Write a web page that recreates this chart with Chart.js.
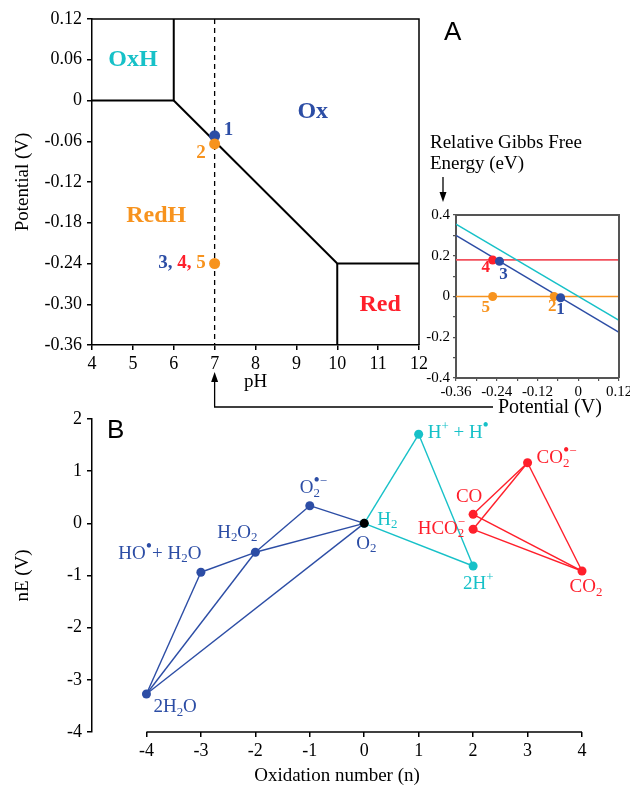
<!DOCTYPE html>
<html>
<head>
<meta charset="utf-8">
<script src="https://cdn.jsdelivr.net/npm/chart.js@4.4.1/dist/chart.umd.min.js"></script>
<style>
  html, body { margin: 0; padding: 0; background: #fff; }
  #wrap { position: relative; width: 630px; height: 788px; overflow: hidden; }
  canvas { position: absolute; left: 0; top: 0; }
</style>
</head>
<body>
<div id="wrap">
  <canvas id="pourbaix" width="630" height="788"></canvas>
  <canvas id="gibbs" width="630" height="788"></canvas>
  <canvas id="frost" width="630" height="788"></canvas>
</div>
<script>
// ---- panel A : pH / potential map ----
const phTicks = [4, 5, 6, 7, 8, 9, 10, 11, 12];
const potentialTicks = [0.12, 0.06, 0, -0.06, -0.12, -0.18, -0.24, -0.30, -0.36];
const potentialLabels = ['0.12', '0.06', '0', '-0.06', '-0.12', '-0.18', '-0.24', '-0.30', '-0.36'];

const oxhBoundaryPH = [4, 6, 6];
const oxhBoundaryE = [0, 0, 0.12];
const oxBoundaryPH = [6, 10, 12];
const oxBoundaryE = [0, -0.24, -0.24];
const redBoundaryPH = [10, 10];
const redBoundaryE = [-0.24, -0.36];
const neutralPH = [7, 7];
const neutralE = [0.12, -0.36];

const statePH = [7, 7, 7];              // state 1, state 2, states 3-5
const stateE = [-0.052, -0.064, -0.24];

// ---- inset : relative Gibbs free energy ----
const insetPotentialTicks = [-0.36, -0.30, -0.24, -0.18, -0.12, -0.06, 0, 0.06, 0.12];
const insetPotentialLabels = ['-0.36', '', '-0.24', '', '-0.12', '', '0', '', '0.12'];
const gibbsTicks = [0.4, 0.3, 0.2, 0.1, 0, -0.1, -0.2, -0.3, -0.4];
const gibbsLabels = ['0.4', '', '0.2', '', '0', '', '-0.2', '', '-0.4'];

const sweepPotential = [-0.36, 0.12];
const gibbsCyan = [0.355, -0.117];
const gibbsBlue = [0.300, -0.176];
const gibbsRed = [0.18, 0.18];
const gibbsOrange = [0, 0];

const insetStates = ['2', '5', '4', '1', '3'];
const insetStatePotential = [-0.071, -0.252, -0.252, -0.052, -0.232];
const insetStateGibbs = [0, 0, 0.179, -0.006, 0.173];

// ---- panel B : Frost diagram ----
const oxNumberTicks = [-4, -3, -2, -1, 0, 1, 2, 3, 4];
const nETicks = [2, 1, 0, -1, -2, -3, -4];

const oxygenN = [-4, -3, -2, -1, 0];           // 2H2O, HO.+H2O, H2O2, O2.-, O2
const oxygenNE = [-3.271, -0.938, -0.555, 0.338, 0];
const oxygenLinks = [[0, 1], [1, 2], [2, 3], [3, 4], [0, 2], [2, 4], [0, 4]];

const hydrogenN = [0, 1, 2];                   // H2, H+ + H., 2H+
const hydrogenNE = [0, 1.707, -0.818];
const hydrogenLinks = [[0, 1], [1, 2], [0, 2]];

const carbonN = [2, 2, 3, 4];                  // CO, HCO2-, CO2.-, CO2
const carbonNE = [0.173, -0.114, 1.162, -0.914];
const carbonLinks = [[0, 2], [1, 2], [2, 3], [0, 3], [1, 3]];

const BLUE = '#2c4da5', CYAN = '#17c1c8', ORANGE = '#f7931e', RED = '#ff1f2b', PINK = '#f2505c';
const SERIF = '"Liberation Serif", "Times New Roman", serif';
const SANS = '"Liberation Sans", Arial, sans-serif';

Chart.defaults.font.family = SERIF;
Chart.defaults.color = '#000';

function pairs(xs, ys) {
  return xs.map((v, i) => ({ x: v, y: ys[i] }));
}
function fixedTicks(values) {
  return scale => { scale.ticks = values.map(v => ({ value: v })); };
}
function fixedSize(size) {
  return scale => {
    if (scale.isHorizontal()) scale.height = size; else scale.width = size;
    scale.paddingLeft = scale.paddingRight = scale.paddingTop = scale.paddingBottom = 0;
  };
}
function line(xs, ys, color, width, dash) {
  return { data: pairs(xs, ys), showLine: true, borderColor: color, borderWidth: width,
           borderDash: dash || [], pointRadius: 0, order: 2 };
}

// glyph runs for one piece of a formula
function runs(t, k, size) {
  if (!k) return [{ t, s: size, dy: 0 }];
  const dy = k === 'sub' ? size * 0.2 : -size * 0.42;
  return [...t].map(c => c === '•'
    ? { t: c, s: size * 0.95, dy: dy + size * 0.06 }
    : { t: c, s: size * 0.68, dy });
}
function runsWidth(ctx, list) {
  return list.reduce((w, r) => { ctx.font = r.s + 'px ' + SERIF; return w + ctx.measureText(r.t).width; }, 0);
}
function drawRuns(ctx, list, x, base) {
  list.forEach(r => {
    ctx.font = r.s + 'px ' + SERIF;
    ctx.fillText(r.t, x, base + r.dy);
    x += ctx.measureText(r.t).width;
  });
}

// text with sub / superscripts; y = visual middle of capitals
function richText(ctx, parts, x, y, size, color, align) {
  const pieces = parts.map(([t, k]) => k === 'pair'
    ? [runs(t[0], 'sub', size), runs(t[1], 'sup', size)]
    : [runs(t, k, size)]);
  const widths = pieces.map(p => Math.max(...p.map(l => runsWidth(ctx, l))));
  const total = widths.reduce((s, w) => s + w, 0);
  let cx = align === 'center' ? x - total / 2 : align === 'right' ? x - total : x;
  const base = y + size * 0.33;
  ctx.fillStyle = color;
  ctx.textAlign = 'left';
  ctx.textBaseline = 'alphabetic';
  pieces.forEach((p, i) => {
    p.forEach(l => drawRuns(ctx, l, cx, base));
    cx += widths[i];
  });
}

function arrowHead(ctx, x, y, dir) {
  ctx.beginPath();
  ctx.moveTo(x, y);
  ctx.lineTo(x - 3.5, y + 10 * dir);
  ctx.lineTo(x + 3.5, y + 10 * dir);
  ctx.closePath();
  ctx.fill();
}

// ================= panel A =================
const regionNames = [
  { text: 'OxH', ph: 5.0, e: 0.06, color: CYAN },
  { text: 'Ox', ph: 9.4, e: -0.017, color: BLUE },
  { text: 'RedH', ph: 5.57, e: -0.17, color: ORANGE },
  { text: 'Red', ph: 11.05, e: -0.301, color: RED }
];

const pourbaixDecor = {
  id: 'pourbaixDecor',
  afterDraw(chart) {
    const { ctx, chartArea: a, scales: { x, y } } = chart;
    ctx.save();
    ctx.strokeStyle = '#000';
    ctx.lineWidth = 1.5;
    ctx.beginPath();
    ctx.moveTo(a.left, a.top); ctx.lineTo(a.right, a.top); ctx.lineTo(a.right, a.bottom);
    ctx.stroke();

    ctx.textAlign = 'center';
    ctx.textBaseline = 'middle';
    ctx.font = 'bold 24px ' + SERIF;
    regionNames.forEach(r => {
      ctx.fillStyle = r.color;
      ctx.fillText(r.text, x.getPixelForValue(r.ph), y.getPixelForValue(r.e));
    });

    const pts = chart.getDatasetMeta(0).data;
    ctx.font = 'bold 19px ' + SERIF;
    ctx.textAlign = 'left';
    ctx.fillStyle = BLUE;
    ctx.fillText('1', pts[0].x + 9, pts[0].y - 6);
    ctx.textAlign = 'right';
    ctx.fillStyle = ORANGE;
    ctx.fillText('2', pts[1].x - 9, pts[1].y + 9);
    // "3, 4, 5" in their state colours
    const seq = [['3, ', BLUE], ['4, ', RED], ['5', ORANGE]];
    let cx = pts[2].x - 9 - seq.reduce((s, [t]) => s + ctx.measureText(t).width, 0);
    ctx.textAlign = 'left';
    seq.forEach(([t, c]) => { ctx.fillStyle = c; ctx.fillText(t, cx, pts[2].y); cx += ctx.measureText(t).width; });

    // connector from inset potential axis to pH 7
    const p7 = x.getPixelForValue(7);
    ctx.lineWidth = 1.3;
    ctx.beginPath();
    ctx.moveTo(493, 407); ctx.lineTo(p7, 407); ctx.lineTo(p7, 380);
    ctx.stroke();
    ctx.fillStyle = '#000';
    arrowHead(ctx, p7, 372, 1);

    ctx.font = '26px ' + SANS;
    ctx.textAlign = 'left';
    ctx.textBaseline = 'alphabetic';
    ctx.fillText('A', 444, 40);
    ctx.restore();
  }
};

const chartA = new Chart(document.getElementById('pourbaix'), {
  type: 'scatter',
  data: {
    datasets: [
      { data: pairs(statePH, stateE), pointRadius: 5.5, pointBorderWidth: 0,
        pointBackgroundColor: [BLUE, ORANGE, ORANGE], order: 0, clip: false },
      line(oxhBoundaryPH, oxhBoundaryE, '#000', 2),
      line(oxBoundaryPH, oxBoundaryE, '#000', 2),
      line(redBoundaryPH, redBoundaryE, '#000', 2),
      line(neutralPH, neutralE, '#000', 1.3, [5, 4])
    ]
  },
  options: {
    responsive: false, animation: false, devicePixelRatio: 1, events: [],
    layout: { padding: { left: 12, top: 19, right: 211, bottom: 395 } },
    plugins: { legend: { display: false }, tooltip: { enabled: false } },
    scales: {
      x: {
        type: 'linear', min: 4, max: 12,
        afterBuildTicks: fixedTicks(phTicks), afterFit: fixedSize(48),
        ticks: { font: { size: 18 }, padding: 3, autoSkip: false, maxRotation: 0, callback: v => String(v) },
        grid: { drawOnChartArea: false, tickLength: 5, color: '#000', lineWidth: 1.5 },
        border: { color: '#000', width: 1.5 },
        title: { display: true, text: 'pH', font: { size: 19 }, padding: 0 }
      },
      y: {
        type: 'linear', min: -0.36, max: 0.12,
        afterBuildTicks: fixedTicks(potentialTicks), afterFit: fixedSize(80),
        ticks: { font: { size: 18 }, padding: 5, autoSkip: false, callback: (v, i) => potentialLabels[i] },
        grid: { drawOnChartArea: false, tickLength: 5, color: '#000', lineWidth: 1.5 },
        border: { color: '#000', width: 1.5 },
        title: { display: true, text: 'Potential (V)', font: { size: 19 }, padding: 0 }
      }
    }
  },
  plugins: [pourbaixDecor]
});

// ================= inset =================
const insetColors = [ORANGE, ORANGE, RED, BLUE, BLUE];
const insetLabelShift = { '1': [0, 12], '2': [-2, 10], '3': [4, 13], '4': [-7, 8], '5': [-7, 11] };

const gibbsDecor = {
  id: 'gibbsDecor',
  afterDraw(chart) {
    const { ctx, chartArea: a } = chart;
    ctx.save();
    ctx.strokeStyle = '#555';
    ctx.lineWidth = 2;
    ctx.beginPath();
    ctx.moveTo(a.left, a.top); ctx.lineTo(a.right, a.top); ctx.lineTo(a.right, a.bottom);
    ctx.stroke();

    const pts = chart.getDatasetMeta(0).data;
    ctx.font = 'bold 17px ' + SERIF;
    ctx.textAlign = 'center';
    ctx.textBaseline = 'middle';
    insetStates.forEach((s, i) => {
      const [dx, dy] = insetLabelShift[s];
      ctx.fillStyle = insetColors[i];
      ctx.fillText(s, pts[i].x + dx, pts[i].y + dy);
    });

    ctx.fillStyle = '#000';
    ctx.font = '19px ' + SERIF;
    ctx.textAlign = 'left';
    ctx.fillText('Relative Gibbs Free', 430, 143);
    ctx.fillText('Energy (eV)', 430, 164);
    ctx.font = '20px ' + SERIF;
    ctx.fillText('Potential (V)', 498, 408);

    ctx.strokeStyle = '#000';
    ctx.lineWidth = 1.3;
    ctx.beginPath();
    ctx.moveTo(443, 177); ctx.lineTo(443, 195);
    ctx.stroke();
    arrowHead(ctx, 443, 202, -1);
    ctx.restore();
  }
};

new Chart(document.getElementById('gibbs'), {
  type: 'scatter',
  data: {
    datasets: [
      { data: pairs(insetStatePotential, insetStateGibbs), pointRadius: 4.5, pointBorderWidth: 0,
        pointBackgroundColor: insetColors, order: 0, clip: false },
      line(sweepPotential, gibbsCyan, CYAN, 1.3),
      line(sweepPotential, gibbsBlue, BLUE, 1.3),
      line(sweepPotential, gibbsRed, PINK, 1.6),
      line(sweepPotential, gibbsOrange, ORANGE, 1.6)
    ]
  },
  options: {
    responsive: false, animation: false, devicePixelRatio: 1, events: [],
    layout: { padding: { left: 416, top: 215, right: 11, bottom: 386 } },
    plugins: { legend: { display: false }, tooltip: { enabled: false } },
    scales: {
      x: {
        type: 'linear', min: -0.36, max: 0.12,
        afterBuildTicks: fixedTicks(insetPotentialTicks), afterFit: fixedSize(24),
        ticks: { font: { size: 15 }, padding: 2, autoSkip: false, maxRotation: 0, callback: (v, i) => insetPotentialLabels[i] },
        grid: { drawOnChartArea: false, tickLength: 3, color: '#555', lineWidth: 1.2 },
        border: { color: '#555', width: 2 }
      },
      y: {
        type: 'linear', min: -0.4, max: 0.4,
        afterBuildTicks: fixedTicks(gibbsTicks), afterFit: fixedSize(40),
        ticks: { font: { size: 15 }, padding: 3, autoSkip: false, callback: (v, i) => gibbsLabels[i] },
        grid: { drawOnChartArea: false, tickLength: 3, color: '#555', lineWidth: 1.2 },
        border: { color: '#555', width: 2 }
      }
    }
  },
  plugins: [gibbsDecor]
});

// ================= panel B =================
const speciesNames = [
  { n: oxygenN[0], e: oxygenNE[0], color: BLUE, align: 'left', dx: 7, dy: 12, parts: [['2H'], ['2', 'sub'], ['O']] },
  { n: oxygenN[1], e: oxygenNE[1], color: BLUE, align: 'center', dx: -41, dy: -20, parts: [['HO'], ['•', 'sup'], ['+ H'], ['2', 'sub'], ['O']] },
  { n: oxygenN[2], e: oxygenNE[2], color: BLUE, align: 'center', dx: -18, dy: -21, parts: [['H'], ['2', 'sub'], ['O'], ['2', 'sub']] },
  { n: oxygenN[3], e: oxygenNE[3], color: BLUE, align: 'left', dx: -10, dy: -19, parts: [['O'], [['2', '•−'], 'pair']] },
  { n: oxygenN[4], e: oxygenNE[4], color: BLUE, align: 'left', dx: -8, dy: 19, parts: [['O'], ['2', 'sub']] },
  { n: hydrogenN[0], e: hydrogenNE[0], color: CYAN, align: 'left', dx: 13, dy: -5, parts: [['H'], ['2', 'sub']] },
  { n: hydrogenN[1], e: hydrogenNE[1], color: CYAN, align: 'left', dx: 9, dy: -3, parts: [['H'], ['+', 'sup'], [' + H'], ['•', 'sup']] },
  { n: hydrogenN[2], e: hydrogenNE[2], color: CYAN, align: 'left', dx: -10, dy: 17, parts: [['2H'], ['+', 'sup']] },
  { n: carbonN[0], e: carbonNE[0], color: RED, align: 'center', dx: -4, dy: -19, parts: [['CO']] },
  { n: carbonN[1], e: carbonNE[1], color: RED, align: 'right', dx: -8, dy: -2, parts: [['HCO'], [['2', '−'], 'pair']] },
  { n: carbonN[2], e: carbonNE[2], color: RED, align: 'left', dx: 9, dy: -6, parts: [['CO'], [['2', '•−'], 'pair']] },
  { n: carbonN[3], e: carbonNE[3], color: RED, align: 'center', dx: 4, dy: 15, parts: [['CO'], ['2', 'sub']] }
];

function linkSets(ns, es, links, color) {
  return links.map(([i, j]) => line([ns[i], ns[j]], [es[i], es[j]], color, 1.4));
}

const frostDecor = {
  id: 'frostDecor',
  afterDraw(chart) {
    const { ctx, chartArea: a, scales: { x, y } } = chart;
    ctx.save();
    ctx.strokeStyle = '#000';
    ctx.lineWidth = 1.5;
    ctx.beginPath();
    ctx.moveTo(x.getPixelForValue(oxNumberTicks[0]), a.bottom);
    ctx.lineTo(x.getPixelForValue(oxNumberTicks[oxNumberTicks.length - 1]), a.bottom);
    ctx.stroke();

    speciesNames.forEach(s => {
      richText(ctx, s.parts, x.getPixelForValue(s.n) + s.dx, y.getPixelForValue(s.e) + s.dy, 19, s.color, s.align);
    });

    ctx.fillStyle = '#000';
    ctx.font = '26px ' + SANS;
    ctx.textAlign = 'left';
    ctx.textBaseline = 'alphabetic';
    ctx.fillText('B', 107, 438);
    ctx.restore();
  }
};

new Chart(document.getElementById('frost'), {
  type: 'scatter',
  data: {
    datasets: [
      { data: pairs(oxygenN, oxygenNE), pointRadius: 4.5, pointBorderWidth: 0,
        pointBackgroundColor: [BLUE, BLUE, BLUE, BLUE, '#000'], order: 0, clip: false },
      { data: pairs(hydrogenN, hydrogenNE), pointRadius: 4.5, pointBorderWidth: 0,
        pointBackgroundColor: CYAN, order: 1, clip: false },
      { data: pairs(carbonN, carbonNE), pointRadius: 4.5, pointBorderWidth: 0,
        pointBackgroundColor: RED, order: 1, clip: false },
      ...linkSets(oxygenN, oxygenNE, oxygenLinks, BLUE),
      ...linkSets(hydrogenN, hydrogenNE, hydrogenLinks, CYAN),
      ...linkSets(carbonN, carbonNE, carbonLinks, RED)
    ]
  },
  options: {
    responsive: false, animation: false, devicePixelRatio: 1, events: [],
    layout: { padding: { left: 12, top: 419, right: 48, bottom: 1 } },
    plugins: { legend: { display: false }, tooltip: { enabled: false } },
    scales: {
      x: {
        type: 'linear', min: -5, max: 4,
        afterBuildTicks: fixedTicks(oxNumberTicks), afterFit: fixedSize(55),
        ticks: { font: { size: 18 }, padding: 3, autoSkip: false, maxRotation: 0, callback: v => String(v) },
        grid: { drawOnChartArea: false, tickLength: 5, color: '#000', lineWidth: 1.5 },
        border: { display: false },
        title: { display: true, text: 'Oxidation number (n)', font: { size: 19 }, padding: 0 }
      },
      y: {
        type: 'linear', min: -4, max: 2,
        afterBuildTicks: fixedTicks(nETicks), afterFit: fixedSize(80),
        ticks: { font: { size: 18 }, padding: 5, autoSkip: false, callback: v => String(v) },
        grid: { drawOnChartArea: false, tickLength: 5, color: '#000', lineWidth: 1.5 },
        border: { color: '#000', width: 1.5 },
        title: { display: true, text: 'nE (V)', font: { size: 19 }, padding: 0 }
      }
    }
  },
  plugins: [frostDecor]
});
</script>
</body>
</html>
